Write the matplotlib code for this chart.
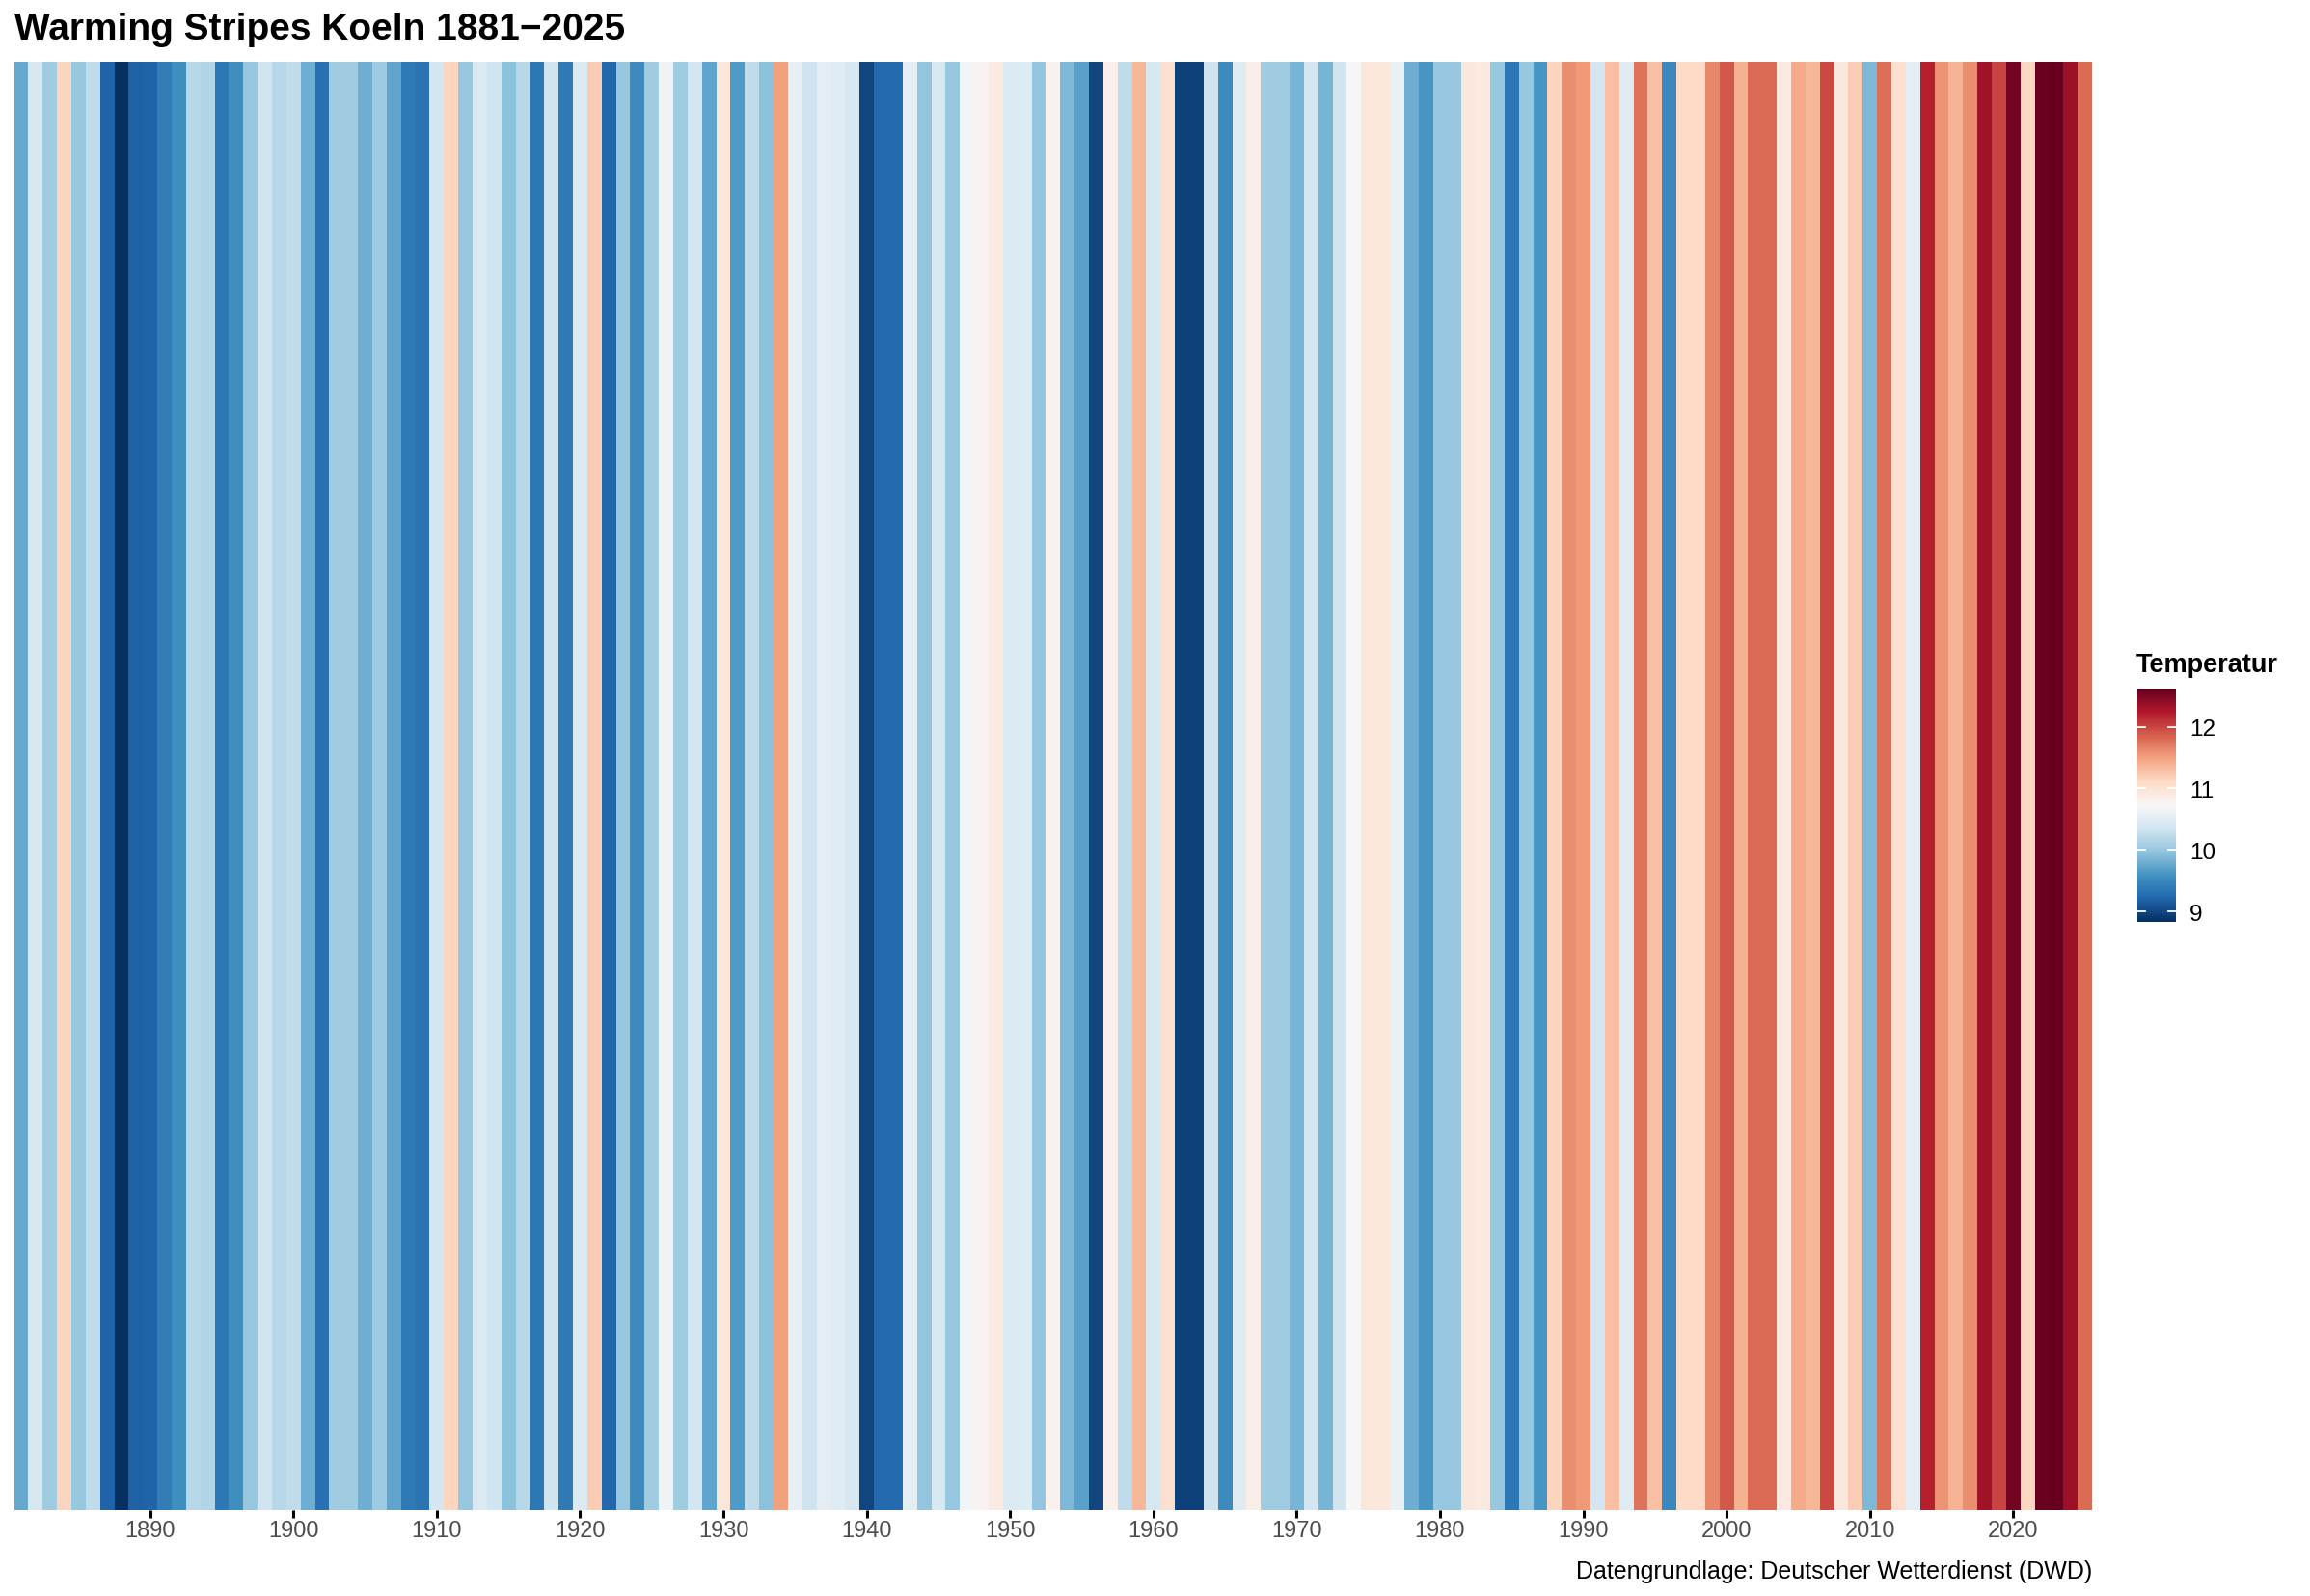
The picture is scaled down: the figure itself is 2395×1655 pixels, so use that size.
import numpy as np
import matplotlib
matplotlib.use("Agg")
import matplotlib.pyplot as plt
from matplotlib.colors import Normalize

plt.rcParams['font.family'] = ['Liberation Sans', 'DejaVu Sans']

years = list(range(1881, 2026))
temps = [
    9.75, 10.40, 10.05, 11.15, 10.00, 10.25, 9.20, 8.83, 9.18, 9.20,   # 1881-1890
    9.40, 9.55, 10.20, 10.15, 9.35, 9.55, 10.00, 10.35, 10.20, 10.25,   # 1891-1900
    9.80, 9.30, 10.05, 10.05, 9.80, 10.03, 9.73, 9.37, 9.32, 10.37,     # 1901-1910
    11.15, 10.00, 10.45, 10.35, 9.95, 10.20, 9.35, 10.35, 9.37, 10.45,  # 1911-1920
    11.20, 9.22, 10.00, 9.52, 10.05, 10.65, 10.05, 10.37, 9.72, 10.95,  # 1921-1930
    9.65, 10.25, 9.95, 11.50, 10.55, 10.33, 10.52, 10.50, 10.40, 8.98,  # 1931-1940
    9.25, 9.25, 10.52, 9.97, 10.42, 10.00, 10.68, 10.78, 10.90, 10.45,  # 1941-1950
    10.47, 9.97, 10.80, 9.88, 9.70, 8.98, 10.82, 10.25, 11.35, 10.40,   # 1951-1960
    11.05, 8.95, 8.95, 10.33, 9.52, 10.50, 10.85, 10.05, 10.05, 9.85,   # 1961-1970
    10.37, 9.85, 10.35, 10.73, 10.95, 10.95, 10.60, 9.80, 9.60, 10.00,  # 1971-1980
    10.00, 10.92, 10.90, 10.00, 9.35, 10.00, 9.60, 11.15, 11.60, 11.55, # 1981-1990
    10.37, 11.30, 10.50, 11.75, 11.30, 9.50, 11.10, 11.10, 11.65, 11.90,# 1991-2000
    11.40, 11.80, 11.80, 10.90, 11.45, 11.35, 11.98, 10.92, 11.20, 9.87,# 2001-2010
    11.78, 11.05, 10.52, 12.20, 11.57, 11.38, 11.60, 12.33, 12.00, 12.55,# 2011-2020
    11.13, 12.60, 12.62, 12.35, 11.80,                                   # 2021-2025
]
xticks = [1890, 1900, 1910, 1920, 1930, 1940, 1950, 1960, 1970, 1980, 1990, 2000, 2010, 2020]
cbar_ticks = [9, 10, 11, 12]

title = "Warming Stripes Koeln 1881\u22122025"
caption = "Datengrundlage: Deutscher Wetterdienst (DWD)"
legend_title = "Temperatur"

W, H = 2395, 1656
fig = plt.figure(figsize=(W / 100, H / 100), dpi=100)

left_px, right_px, top_px, bottom_px = 14.6, 2169, 64.5, 1567
ax = fig.add_axes([left_px / W, 1 - bottom_px / H, (right_px - left_px) / W, (bottom_px - top_px) / H])

vals = np.array(temps)
yrs = np.array(years)
norm = Normalize(vmin=vals.min(), vmax=vals.max())
edges = np.concatenate([yrs - 0.5, [yrs[-1] + 0.5]])
mesh = ax.pcolormesh(edges, [0, 1], vals[None, :], cmap='RdBu_r', norm=norm, shading='flat')

ax.set_xlim(edges[0], edges[-1])
ax.set_ylim(0, 1)
ax.set_yticks([])
ax.set_xticks(xticks)
ax.set_xticklabels([str(t) for t in xticks])
ax.tick_params(axis='x', length=6, width=2.2, color='black', pad=1.2,
               labelsize=17, labelcolor='#4d4d4d')
for s in ax.spines.values():
    s.set_visible(False)

fig.text(15 / W, 1 - 41 / H, title, fontsize=28, fontweight='bold', ha='left', va='baseline')
fig.text(2169 / W, 1 - 1637 / H, caption, fontsize=18, ha='right', va='baseline')

# colorbar
cax = fig.add_axes([2216 / W, 1 - 957 / H, 40 / W, 242 / H])
cb = fig.colorbar(mesh, cax=cax, ticks=cbar_ticks)
cb.outline.set_visible(False)
cax.tick_params(length=0, labelsize=17.5, pad=10, labelcolor='black')
for t in cbar_ticks:
    cax.plot([0, 0.2], [t, t], color='white', lw=1.3, transform=cax.get_yaxis_transform())
    cax.plot([0.8, 1.0], [t, t], color='white', lw=1.3, transform=cax.get_yaxis_transform())
fig.text(2215 / W, 1 - 697 / H, legend_title, fontsize=19.5, fontweight='bold', ha='left', va='baseline')

fig.savefig("out.png", dpi=100, facecolor='white')
